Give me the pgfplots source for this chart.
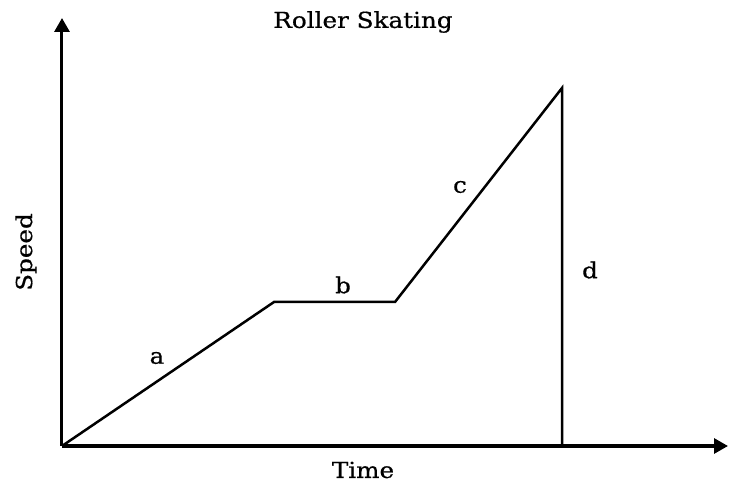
\documentclass[border=0pt]{standalone}
\usepackage{fontspec}
\setmainfont{DejaVu Serif}[FakeStretch=1.12,FakeBold=0.6]
\usepackage{pgfplots}
\pgfplotsset{compat=1.18}
\usetikzlibrary{arrows.meta}
\begin{document}
\begin{tikzpicture}
\begin{axis}[
  scale only axis,
  width=666bp, height=428bp,
  xmin=0, xmax=666, ymin=0, ymax=428,
  axis lines=left,
  axis line style={line width=3bp, -{Triangle[length=14bp,width=15bp]}},
  xtick=\empty, ytick=\empty,
  clip=false,
  every axis plot/.append style={line width=2.5bp},
]
\addplot[black, mark=none, line join=miter] coordinates {(0,0) (212,144) (333,144) (500,358) (500,0)};
\coordinate (O) at (axis cs:0,0);
\node[font=\fontsize{22bp}{26bp}\selectfont] at (axis cs:95,88) {a};
\node[font=\fontsize{22bp}{26bp}\selectfont] at (axis cs:281,161) {b};
\node[font=\fontsize{22bp}{26bp}\selectfont] at (axis cs:398,259) {c};
\node[font=\fontsize{22bp}{26bp}\selectfont] at (axis cs:528,176) {d};
\node[font=\fontsize{22bp}{26bp}\selectfont] at (axis cs:301,424) {Roller Skating};
\node[font=\fontsize{22bp}{26bp}\selectfont] at (axis cs:301,-24) {Time};
\node[font=\fontsize{22bp}{26bp}\selectfont, rotate=90] at (axis cs:-36,194) {Speed};
\end{axis}
\pgfresetboundingbox
\path (O)+(-62bp,-39bp) rectangle +(674bp,446bp);
\end{tikzpicture}
\end{document}
